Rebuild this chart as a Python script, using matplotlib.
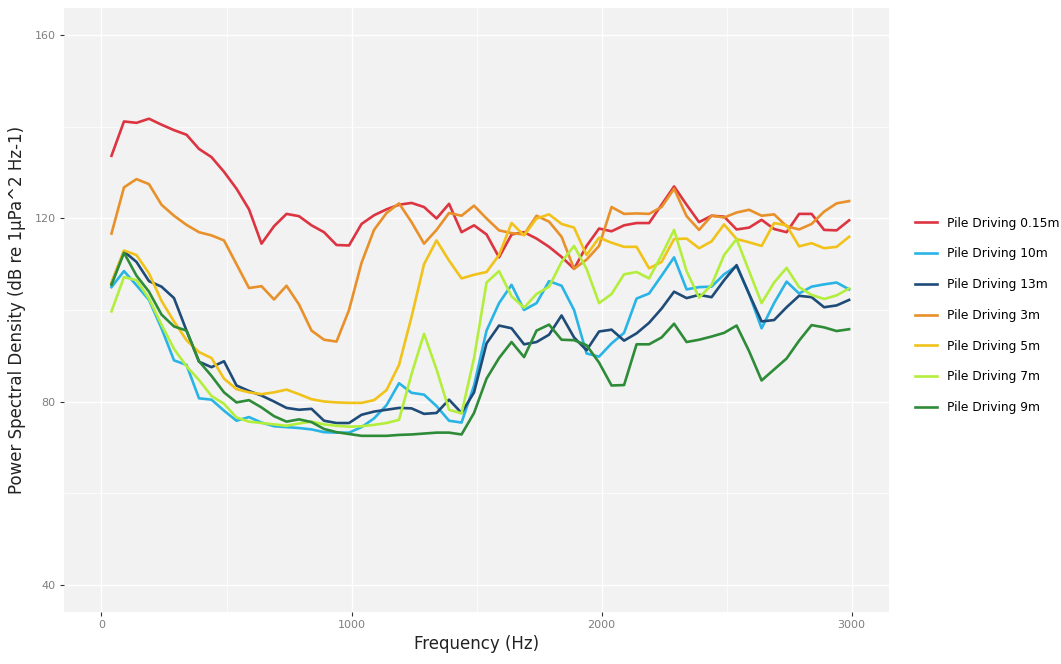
import numpy as np
import matplotlib.pyplot as plt

# frequency grid (Hz)
freq = np.arange(40, 3000, 50)

psd_015m = [133.7, 141.2, 140.9, 141.8, 140.5, 139.3, 138.3, 135.2, 133.4, 130.2,
            126.5, 122.0, 114.5, 118.3, 121.0, 120.5, 118.5, 117.0, 114.2, 114.1,
            118.8, 120.7, 122.0, 123.0, 123.4, 122.5, 120.0, 123.2, 117.0, 118.5,
            116.5, 111.5, 116.5, 117.0, 115.6, 113.8, 111.6, 109.0, 114.0, 117.8,
            117.2, 118.5, 119.0, 119.0, 123.0, 127.0, 123.0, 119.2, 120.6, 120.4,
            117.6, 118.0, 119.7, 117.7, 117.0, 121.0, 121.0, 117.5, 117.4, 119.6]
psd_10m = [105.0, 108.5, 105.4, 102.2, 96.0, 89.0, 88.0, 80.7, 80.4, 78.0,
           75.8, 76.6, 75.4, 74.6, 74.4, 74.2, 73.9, 73.3, 73.2, 73.2,
           74.4, 76.3, 79.2, 84.0, 81.9, 81.5, 79.0, 75.8, 75.4, 83.5,
           95.5, 101.5, 105.5, 100.0, 101.5, 106.3, 105.3, 100.0, 90.5, 89.8,
           92.7, 95.0, 102.5, 103.6, 107.5, 111.5, 104.5, 105.0, 105.1, 107.8,
           109.6, 103.5, 96.0, 101.5, 106.2, 103.6, 105.1, 105.6, 106.0, 104.5]
psd_13m = [105.8, 112.8, 110.5, 106.3, 105.1, 102.6, 95.5, 88.7, 87.5, 88.8,
           83.5, 82.3, 81.3, 80.0, 78.6, 78.2, 78.4, 75.8, 75.3, 75.3,
           77.1, 77.8, 78.2, 78.6, 78.5, 77.3, 77.5, 80.4, 77.5, 82.0,
           92.7, 96.6, 96.0, 92.5, 93.0, 94.6, 98.8, 94.0, 91.2, 95.3,
           95.7, 93.3, 94.9, 97.2, 100.3, 104.0, 102.6, 103.3, 102.8, 106.5,
           109.8, 103.5, 97.5, 97.8, 100.6, 103.1, 102.8, 100.6, 101.0, 102.2]
psd_3m = [116.7, 126.8, 128.6, 127.5, 123.0, 120.6, 118.6, 117.0, 116.3, 115.2,
          110.0, 104.8, 105.2, 102.3, 105.3, 101.2, 95.5, 93.5, 93.1, 100.0,
          110.3, 117.5, 121.2, 123.3, 119.2, 114.5, 117.5, 121.2, 120.6, 122.8,
          120.0, 117.4, 116.8, 116.5, 120.6, 119.3, 116.0, 109.0, 111.0, 114.0,
          122.5, 121.0, 121.1, 121.0, 122.5, 126.5, 120.5, 117.5, 120.6, 120.2,
          121.3, 121.9, 120.6, 120.9, 118.3, 117.6, 118.8, 121.5, 123.3, 123.8]
psd_5m = [106.0, 113.0, 112.0, 108.0, 102.0, 97.5, 93.4, 90.8, 89.5, 85.0,
          82.7, 82.0, 81.6, 82.0, 82.6, 81.6, 80.5, 80.0, 79.8, 79.7,
          79.7, 80.3, 82.5, 88.0, 98.5, 110.0, 115.2, 110.8, 106.9, 107.7,
          108.3, 112.0, 119.0, 116.3, 120.0, 120.9, 118.8, 118.0, 112.0, 115.8,
          114.7, 113.8, 113.8, 109.1, 110.5, 115.5, 115.6, 113.5, 115.0, 118.7,
          115.5, 114.8, 114.0, 119.0, 118.5, 113.9, 114.6, 113.5, 113.8, 116.0]
psd_7m = [99.7, 107.2, 106.5, 102.5, 96.8, 91.5, 87.7, 84.7, 81.2, 79.5,
          76.5, 75.6, 75.3, 75.0, 74.7, 75.2, 75.6, 75.0, 74.7, 74.5,
          74.6, 74.9, 75.3, 76.0, 86.0, 94.8, 87.0, 78.2, 77.4, 89.5,
          106.0, 108.5, 103.0, 100.5, 103.5, 105.1, 110.5, 114.0, 109.0, 101.5,
          103.5, 107.8, 108.3, 106.9, 112.0, 117.5, 108.5, 102.7, 105.5, 112.0,
          115.5, 108.5, 101.5, 106.0, 109.2, 105.0, 103.3, 102.4, 103.2, 104.7]
psd_9m = [105.5, 112.5, 107.5, 104.0, 99.0, 96.4, 95.5, 88.8, 85.6, 82.0,
          79.8, 80.3, 78.7, 76.8, 75.6, 76.1, 75.5, 74.0, 73.3, 72.9,
          72.5, 72.5, 72.5, 72.7, 72.8, 73.0, 73.2, 73.2, 72.8, 77.5,
          85.0, 89.5, 93.0, 89.7, 95.5, 96.8, 93.5, 93.4, 92.3, 88.5,
          83.5, 83.6, 92.5, 92.5, 94.0, 97.0, 93.0, 93.5, 94.2, 95.0,
          96.6, 91.0, 84.6, 87.0, 89.4, 93.3, 96.7, 96.2, 95.4, 95.8]

labels = ["Pile Driving 0.15m", "Pile Driving 10m", "Pile Driving 13m",
          "Pile Driving 3m", "Pile Driving 5m", "Pile Driving 7m", "Pile Driving 9m"]
series = [psd_015m, psd_10m, psd_13m, psd_3m, psd_5m, psd_7m, psd_9m]
colors = ["#DC3440", "#29B4E6", "#1F4B78", "#E8902A", "#F0C21A", "#B4EE3C", "#2E8B38"]

fig = plt.figure(figsize=(10.61, 6.64), dpi=100)
ax = fig.add_axes([0.0603, 0.0783, 0.7777, 0.9097])
ax.set_facecolor("#F2F2F2")

for vals, lab, c in zip(series, labels, colors):
    ax.plot(freq, vals, color=c, lw=1.9, label=lab, solid_joinstyle="round")

ax.set_xlim(-150, 3150)
ax.set_ylim(34, 166)
ax.set_xticks([0, 1000, 2000, 3000])
ax.set_yticks([40, 80, 120, 160])
ax.set_xticks([500, 1500, 2500], minor=True)
ax.set_yticks([60, 100, 140], minor=True)
ax.grid(True, which="major", color="white", lw=1.0)
ax.grid(True, which="minor", color="white", lw=0.5)
ax.set_axisbelow(True)
for s in ax.spines.values():
    s.set_visible(False)
ax.tick_params(which="major", length=3, color="#333333", labelcolor="#7F7F7F",
               labelsize=8, pad=3)
ax.tick_params(which="minor", length=0)

ax.set_xlabel("Frequency (Hz)", fontsize=12, color="#222222", labelpad=3)
ax.set_ylabel("Power Spectral Density (dB re 1\u00b5Pa^2 Hz-1)", fontsize=12,
              color="#222222", labelpad=6)

fig.legend(loc="center left", bbox_to_anchor=(0.852, 0.525), frameon=False,
           fontsize=8.8, handlelength=1.8, labelspacing=1.45, handletextpad=0.85)

fig.savefig("out.png", dpi=100)
